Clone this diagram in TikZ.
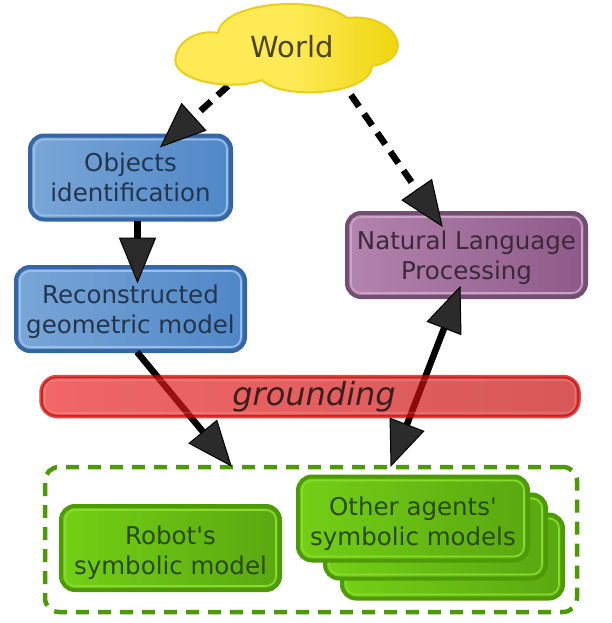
\documentclass[tikz,border=0pt]{standalone}
\usepackage{fontspec}
\setmainfont{DejaVu Sans}[Ligatures=TeXOff]
\usetikzlibrary{calc}
\definecolor{blueA}{HTML}{7AA6D7}
\definecolor{blueB}{HTML}{4F87C7}
\definecolor{blueD}{HTML}{3465A4}
\definecolor{blueH}{HTML}{9ABEE5}
\definecolor{blueT}{HTML}{22354D}
\definecolor{purA}{HTML}{B384AE}
\definecolor{purB}{HTML}{8E5A89}
\definecolor{purD}{HTML}{714E72}
\definecolor{purH}{HTML}{C9A4C5}
\definecolor{purT}{HTML}{3B2939}
\definecolor{grA}{HTML}{74CF15}
\definecolor{grB}{HTML}{5AA811}
\definecolor{grD}{HTML}{4E9A06}
\definecolor{grH}{HTML}{86DC2C}
\definecolor{grT}{HTML}{284A0A}
\definecolor{yelA}{HTML}{FDEA55}
\definecolor{yelB}{HTML}{EDD200}
\definecolor{yelD}{HTML}{E8CF1C}
\definecolor{yelT}{HTML}{4A4424}
\definecolor{redA}{HTML}{EB1D1D}
\definecolor{redB}{HTML}{C50909}
\definecolor{redD}{HTML}{CC0000}
\definecolor{redT}{HTML}{3C1E1E}
\definecolor{headF}{HTML}{2B2B2B}
\newcommand\hlt[2]{\draw[hl,#2] ($(#1.north west)+(6,6)$) rectangle ($(#1.south east)+(-6,-6)$);}
\newcommand\ahd[2]{\filldraw[headst] (#2) -- ($(#2)!44pt!(#1)!18pt!90:(#1)$) -- ($(#2)!44pt!(#1)!18pt!-90:(#1)$) -- cycle;}
\newcommand\dn[1]{\rule{0pt}{#1}}
\begin{document}
\begin{tikzpicture}[x=1pt,y=-1pt,
  box/.style={rounded corners=14pt, line width=4pt, align=center, inner sep=0pt,
    font=\fontsize{24.5}{30}\selectfont, minimum height=84pt},
  bluebox/.style={box, draw=blueD, left color=blueA, right color=blueB, text=blueT},
  purbox/.style={box, draw=purD, left color=purA, right color=purB, text=purT},
  grbox/.style={box, draw=grD, left color=grA, right color=grB, text=grT},
  hl/.style={line width=1.6pt, rounded corners=10pt},
  link/.style={line width=6.5pt, line cap=butt},
  dlink/.style={link, dash pattern=on 14pt off 9pt},
  headst/.style={fill=headF, draw=black, line width=1pt, line join=miter},
  cloudst/.style={draw=yelD, line width=2pt, left color=yelA, right color=yelB, middle color=yelA},
  contst/.style={draw=grD, line width=4.5pt, dash pattern=on 13pt off 9pt, rounded corners=14pt, inner sep=0pt}
]
\useasboundingbox (0,0) rectangle (612,623);

% container
\node[contst, minimum width=532pt, minimum height=145pt] (cont) at (311,539.5) {};

% green boxes
\node[grbox, minimum width=221pt] (oth3) at (452.5,556.5) {};
\hlt{oth3}{grH}
\node[grbox, minimum width=221pt] (oth2) at (435.5,536.5) {};
\hlt{oth2}{grH}
\node[grbox, minimum width=230pt] (oth) at (413,518.5) {\dn{28.6pt}Other agents'\\symbolic models};
\hlt{oth}{grH}
\node[grbox, minimum width=219pt] (rob) at (170.5,548) {\dn{28.6pt}Robot's\\symbolic model};
\hlt{rob}{grH}

% blue boxes
\node[bluebox, minimum width=201pt] (obj) at (130.5,177.5) {Objects\\identification};
\hlt{obj}{blueH}
\node[bluebox, minimum width=229pt] (rec) at (130.5,309) {\dn{24.6pt}Reconstructed\\geometric model};
\hlt{rec}{blueH}

% purple box
\node[purbox, minimum width=239pt] (nlp) at (466.5,255) {\dn{24.6pt}Natural Language\\Processing};
\hlt{nlp}{purH}

% world text anchor (drawn later over the cloud)
\coordinate (wc) at (292,47);

% connector end points
\coordinate (s1) at ($(wc)+(-64,39)$);
\coordinate (t1) at ($(obj.north)+(30.5,13)$);
\coordinate (s2) at ($(wc)+(59,48)$);
\coordinate (t2) at ($(nlp.north)+(-24.5,15)$);
\coordinate (s3) at ($(obj.south)+(7,-1)$);
\coordinate (t3) at ($(rec.north)+(7,17)$);
\coordinate (s4) at ($(rec.south)+(6.5,-1)$);
\coordinate (t4) at ($(cont.north)+(-80,1)$);
\coordinate (ta) at ($(nlp.south)+(-6.5,-12)$);
\coordinate (tb) at ($(cont.north)+(80,1)$);

% connectors
\draw[dlink, shorten >=30pt] (s1) -- (t1);
\ahd{s1}{t1}
\draw[dlink, shorten >=30pt] (s2) -- (t2);
\ahd{s2}{t2}
\draw[link, shorten >=30pt] (s3) -- (t3);
\ahd{s3}{t3}
\draw[link, shorten >=30pt] (s4) -- (t4);
\ahd{s4}{t4}
\draw[link, shorten >=30pt, shorten <=30pt] (ta) -- (tb);
\ahd{tb}{ta}
\ahd{ta}{tb}

% cloud
\filldraw[cloudst] (218,33) .. controls (222,2) and (318,-6) .. (347,18)
  .. controls (395,12) and (420,58) .. (372,66)
  .. controls (370,96) and (280,100) .. (262,80)
  .. controls (230,92) and (168,80) .. (176,56)
  .. controls (180,36) and (205,30) .. (218,33) -- cycle;
\node[text=yelT, font=\fontsize{29}{34}\selectfont, inner sep=0pt] (world) at (wc) {World};

% grounding bar
\node[draw=redD, draw opacity=0.7, line width=3.5pt, left color=redA, right color=redB,
  fill opacity=0.68, text opacity=1, rounded corners=16pt, minimum width=538pt,
  minimum height=40pt, inner sep=0pt, text=redT,
  font=\fontsize{32}{36}\selectfont\itshape] (gr) at (310,396.5) {\hspace*{8pt}grounding};
\draw[hl, white, opacity=0.15] ($(gr.north west)+(5.5,5.5)$) rectangle ($(gr.south east)+(-5.5,-5.5)$);
\end{tikzpicture}
\end{document}
